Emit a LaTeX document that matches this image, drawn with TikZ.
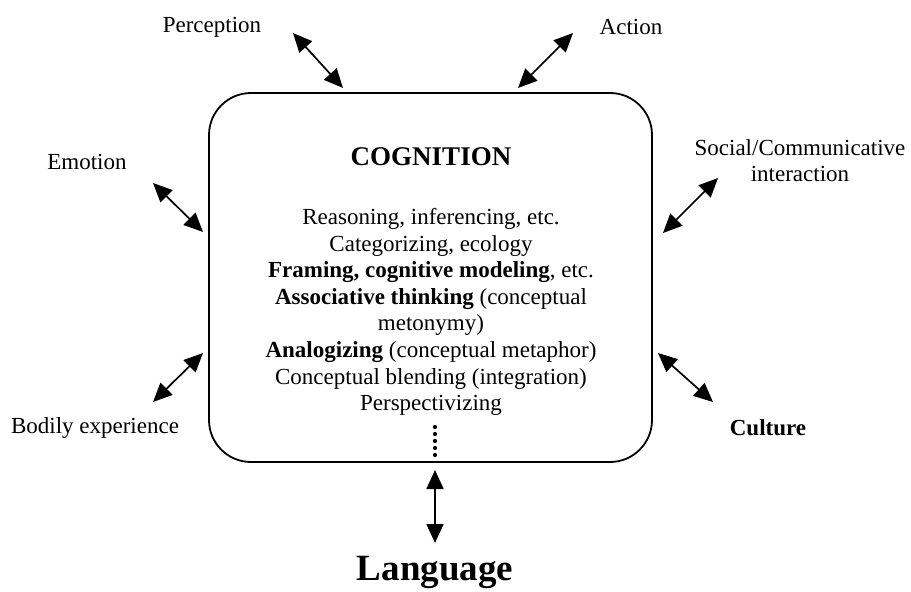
\documentclass[tikz,border=0pt]{standalone}
\usepackage{fontspec}
\setmainfont{Liberation Serif}
\usetikzlibrary{arrows.meta, positioning}

\begin{document}
\begin{tikzpicture}[
    x=1pt, y=-1pt,
    cogbox/.style={
        draw, line width=1.8pt, rounded corners=42pt,
        minimum width=443pt, minimum height=369pt
    },
    factor/.style={font=\fontsize{23}{26}\selectfont, align=center, inner sep=0pt},
    link/.style={{Triangle[length=19pt,width=17pt]}-{Triangle[length=19pt,width=17pt]}, line width=1.7pt}
]
\useasboundingbox (0,0) rectangle (911,592);

% the central box
\node[cogbox] (cog) at (430.5,277.5) {};
\node[font=\fontsize{27}{30}\selectfont\bfseries, inner sep=0pt] (title) at (431,157) {COGNITION};
\node[font=\fontsize{23}{26.6}\selectfont, align=center, inner sep=0pt] (list) at (431,312) {
    Reasoning, inferencing, etc.\\
    Categorizing, ecology\\
    \textbf{Framing, cognitive modeling}, etc.\\
    \textbf{Associative thinking} (conceptual\\
    metonymy)\\
    \textbf{Analogizing} (conceptual metaphor)\\
    Conceptual blending (integration)\\
    Perspectivizing
};
\foreach \i in {0,...,4}
    \fill (435,427+7*\i) circle (2.1pt);

% the factors round it
\node[factor] (perc) at (212,27) {Perception};
\node[factor] (act) at (631,27) {Action};
\node[factor] (emo) at (87,162) {Emotion};
\node[factor] (soc) at (800,161) {Social/Communicative\\interaction};
\node[factor] (body) at (95,428) {Bodily experience};
\node[factor, font=\fontsize{23}{26}\selectfont\bfseries] (cult) at (768,428) {Culture};
\node[font=\fontsize{37}{40}\selectfont\bfseries, inner sep=0pt] (lang) at (435,572) {Language};

% arrow ends
\coordinate (perc-a) at (293,33);  \coordinate (perc-b) at (343,88);
\coordinate (act-a)  at (573,33);  \coordinate (act-b)  at (518,88);
\coordinate (emo-a)  at (153,183); \coordinate (emo-b)  at (203,232);
\coordinate (soc-a)  at (718,178); \coordinate (soc-b)  at (663,233);
\coordinate (body-a) at (203,353); \coordinate (body-b) at (153,402);
\coordinate (cult-a) at (658,353); \coordinate (cult-b) at (713,402);
\coordinate (lang-a) at (435,470); \coordinate (lang-b) at (435,543);

\draw[link] (perc-a) -- (perc-b);
\draw[link] (act-a) -- (act-b);
\draw[link] (emo-a) -- (emo-b);
\draw[link] (soc-a) -- (soc-b);
\draw[link] (body-a) -- (body-b);
\draw[link] (cult-a) -- (cult-b);
\draw[link] (lang-a) -- (lang-b);

\end{tikzpicture}
\end{document}
